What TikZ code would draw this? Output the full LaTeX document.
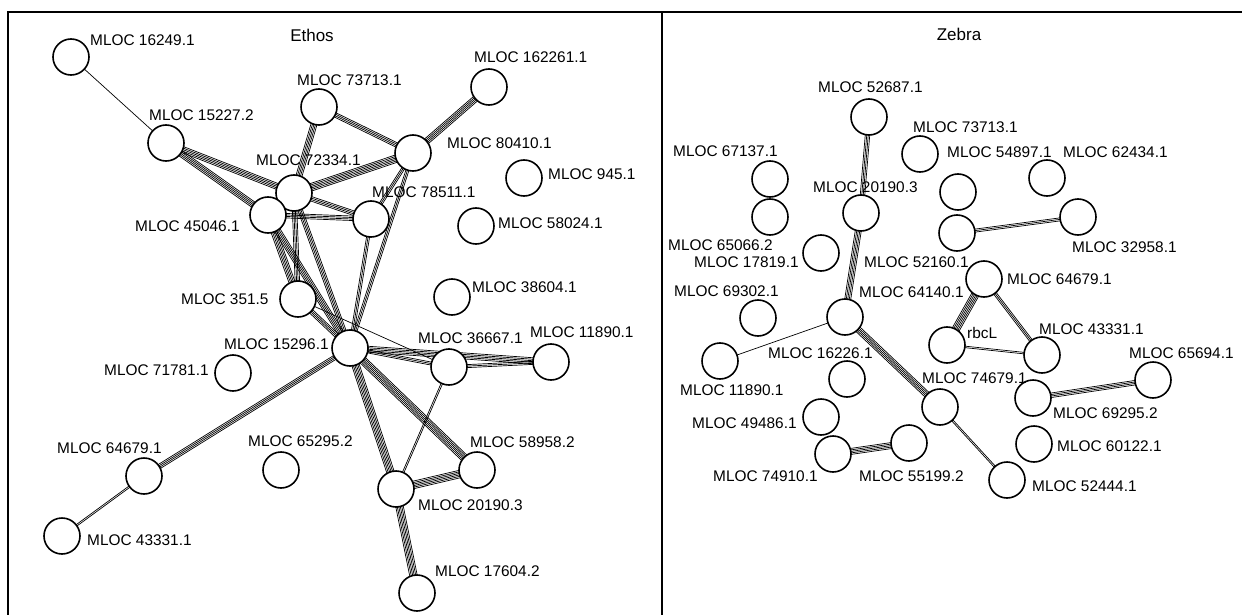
\documentclass[tikz,border=0pt]{standalone}
\usepackage{fontspec}
\setmainfont{Liberation Sans}
\usetikzlibrary{calc,backgrounds}

% A bundle of #1 parallel strands between nodes #2 and #3
\newcommand\linkset[3]{%
  \foreach \k in {1,...,#1}{%
    \pgfmathsetlengthmacro\off{(\k-(#1+1)/2)*1.5pt}%
    \draw[strand] ($(#2)!\off!90:(#3)$) -- ($(#3)!\off!-90:(#2)$);
  }}

\begin{document}
\begin{tikzpicture}[x=1pt,y=-1pt,
  gene/.style={circle,draw,line width=1.6pt,fill=white,minimum size=36pt,inner sep=0pt},
  lab/.style={anchor=west,inner sep=0pt,font=\fontsize{15.4}{18}\selectfont},
  ttl/.style={inner sep=0pt,font=\fontsize{17}{20}\selectfont},
  strand/.style={line width=0.7pt},
  frame/.style={line width=1.5pt}]
\useasboundingbox (0,0) rectangle (1242,615);

% panel frame
\draw[frame] (8,640) |- (1250,12);
\draw[frame] (662,12) -- (662,640);

% ---------- Ethos ----------
\node[ttl] (tEthos) at (312,35) {Ethos};

\node[gene] (e16249) at (71,57) {};
\node[gene] (e15227) at (166,143) {};
\node[gene] (e73713) at (319,107) {};
\node[gene] (e162261) at (489,87) {};
\node[gene] (e80410) at (413,153) {};
\node[gene] (e72334) at (294,193) {};
\node[gene] (e945) at (524,178) {};
\node[gene] (e78511) at (371,219) {};
\node[gene] (e45046) at (268,215) {};
\node[gene] (e58024) at (476,226) {};
\node[gene] (e38604) at (452,297) {};
\node[gene] (e351) at (298,299) {};
\node[gene] (e15296) at (350,348) {};
\node[gene] (e36667) at (449,367) {};
\node[gene] (e11890) at (551,362) {};
\node[gene] (e71781) at (233,373) {};
\node[gene] (e64679) at (144,476) {};
\node[gene] (e65295) at (281,470) {};
\node[gene] (e58958) at (477,470) {};
\node[gene] (e20190) at (396,489) {};
\node[gene] (e43331) at (62,536) {};
\node[gene] (e17604) at (417,593) {};

\node[lab] (le16249) at (90,40) {MLOC 16249.1};
\node[lab] (le15227) at (149,115) {MLOC 15227.2};
\node[lab] (le73713) at (297,80) {MLOC 73713.1};
\node[lab] (le162261) at (474,57) {MLOC 162261.1};
\node[lab] (le80410) at (447,143) {MLOC 80410.1};
\node[lab] (le72334) at (256,160) {MLOC 72334.1};
\node[lab] (le945) at (548,174) {MLOC 945.1};
\node[lab] (le78511) at (372,192) {MLOC 78511.1};
\node[lab] (le45046) at (135,226) {MLOC 45046.1};
\node[lab] (le58024) at (498,223) {MLOC 58024.1};
\node[lab] (le38604) at (472,287) {MLOC 38604.1};
\node[lab] (le351) at (181,299) {MLOC 351.5};
\node[lab] (le15296) at (224,344) {MLOC 15296.1};
\node[lab] (le36667) at (418,338) {MLOC 36667.1};
\node[lab] (le11890) at (530,332) {MLOC 11890.1};
\node[lab] (le71781) at (104,370) {MLOC 71781.1};
\node[lab] (le64679) at (57,448) {MLOC 64679.1};
\node[lab] (le65295) at (248,441) {MLOC 65295.2};
\node[lab] (le58958) at (470,442) {MLOC 58958.2};
\node[lab] (le20190) at (418,505) {MLOC 20190.3};
\node[lab] (le43331) at (87,540) {MLOC 43331.1};
\node[lab] (le17604) at (435,571) {MLOC 17604.2};

% ---------- Zebra ----------
\node[ttl] (tZebra) at (959,34) {Zebra};

\node[gene] (z52687) at (869,117) {};
\node[gene] (z73713) at (920,154) {};
\node[gene] (z67137) at (770,179) {};
\node[gene] (z54897) at (958,192) {};
\node[gene] (z62434) at (1047,178) {};
\node[gene] (z20190) at (861,213) {};
\node[gene] (z65066) at (770,217) {};
\node[gene] (z32958) at (1078,217) {};
\node[gene] (z52160) at (957,233) {};
\node[gene] (z17819) at (821,253) {};
\node[gene] (z64679) at (984,279) {};
\node[gene] (z69302) at (758,318) {};
\node[gene] (z64140) at (845,317) {};
\node[gene] (zrbcL) at (947,345) {};
\node[gene] (z43331) at (1042,355) {};
\node[gene] (z11890) at (720,361) {};
\node[gene] (z16226) at (847,379) {};
\node[gene] (z74679) at (940,407) {};
\node[gene] (z65694) at (1153,380) {};
\node[gene] (z69295) at (1033,398) {};
\node[gene] (z49486) at (821,417) {};
\node[gene] (z60122) at (1034,444) {};
\node[gene] (z74910) at (833,454) {};
\node[gene] (z55199) at (909,443) {};
\node[gene] (z52444) at (1007,480) {};

\node[lab] (lz52687) at (818,87) {MLOC 52687.1};
\node[lab] (lz73713) at (913,127) {MLOC 73713.1};
\node[lab] (lz67137) at (673,151) {MLOC 67137.1};
\node[lab] (lz54897) at (947,152) {MLOC 54897.1};
\node[lab] (lz62434) at (1063,152) {MLOC 62434.1};
\node[lab] (lz20190) at (813,187) {MLOC 20190.3};
\node[lab] (lz65066) at (668,245) {MLOC 65066.2};
\node[lab] (lz32958) at (1072,247) {MLOC 32958.1};
\node[lab] (lz52160) at (864,262) {MLOC 52160.1};
\node[lab] (lz17819) at (694,262) {MLOC 17819.1};
\node[lab] (lz64679) at (1007,279) {MLOC 64679.1};
\node[lab] (lz69302) at (674,291) {MLOC 69302.1};
\node[lab] (lz64140) at (859,292) {MLOC 64140.1};
\node[lab] (lzrbcL) at (967,333) {rbcL};
\node[lab] (lz43331) at (1039,329) {MLOC 43331.1};
\node[lab] (lz11890) at (680,390) {MLOC 11890.1};
\node[lab] (lz16226) at (768,353) {MLOC 16226.1};
\node[lab] (lz74679) at (922,378) {MLOC 74679.1};
\node[lab] (lz65694) at (1129,353) {MLOC 65694.1};
\node[lab] (lz69295) at (1053,413) {MLOC 69295.2};
\node[lab] (lz49486) at (692,423) {MLOC 49486.1};
\node[lab] (lz60122) at (1057,446) {MLOC 60122.1};
\node[lab] (lz74910) at (713,476) {MLOC 74910.1};
\node[lab] (lz55199) at (859,476) {MLOC 55199.2};
\node[lab] (lz52444) at (1032,486) {MLOC 52444.1};

% ---------- interactions, under the circles ----------
\begin{scope}[on background layer]
  % Ethos
  \linkset{1}{e16249}{e15227}
  \linkset{5}{e15227}{e72334}
  \linkset{5}{e15227}{e45046}
  \linkset{5}{e73713}{e72334}
  \linkset{4}{e73713}{e80410}
  \linkset{5}{e162261}{e80410}
  \linkset{6}{e80410}{e72334}
  \linkset{3}{e80410}{e78511}
  \linkset{3}{e80410}{e15296}
  \linkset{4}{e72334}{e78511}
  \linkset{4}{e45046}{e78511}
  \linkset{3}{e78511}{e15296}
  \linkset{4}{e72334}{e15296}
  \linkset{5}{e45046}{e15296}
  \linkset{5}{e45046}{e351}
  \linkset{4}{e72334}{e351}
  \linkset{4}{e351}{e15296}
  \linkset{1}{e351}{e36667}
  \linkset{3}{e15296}{e36667}
  \linkset{5}{e15296}{e11890}
  \linkset{3}{e36667}{e11890}
  \linkset{4}{e15296}{e64679}
  \linkset{2}{e64679}{e43331}
  \linkset{6}{e15296}{e20190}
  \linkset{6}{e15296}{e58958}
  \linkset{2}{e36667}{e20190}
  \linkset{6}{e20190}{e58958}
  \linkset{6}{e20190}{e17604}
  % Zebra
  \linkset{4}{z52687}{z20190}
  \linkset{5}{z20190}{z64140}
  \linkset{3}{z52160}{z32958}
  \linkset{6}{z64679}{zrbcL}
  \linkset{3}{z64679}{z43331}
  \linkset{2}{zrbcL}{z43331}
  \linkset{1}{z64140}{z11890}
  \linkset{5}{z64140}{z74679}
  \linkset{2}{z74679}{z52444}
  \linkset{4}{z69295}{z65694}
  \linkset{5}{z74910}{z55199}
\end{scope}
\end{tikzpicture}
\end{document}
